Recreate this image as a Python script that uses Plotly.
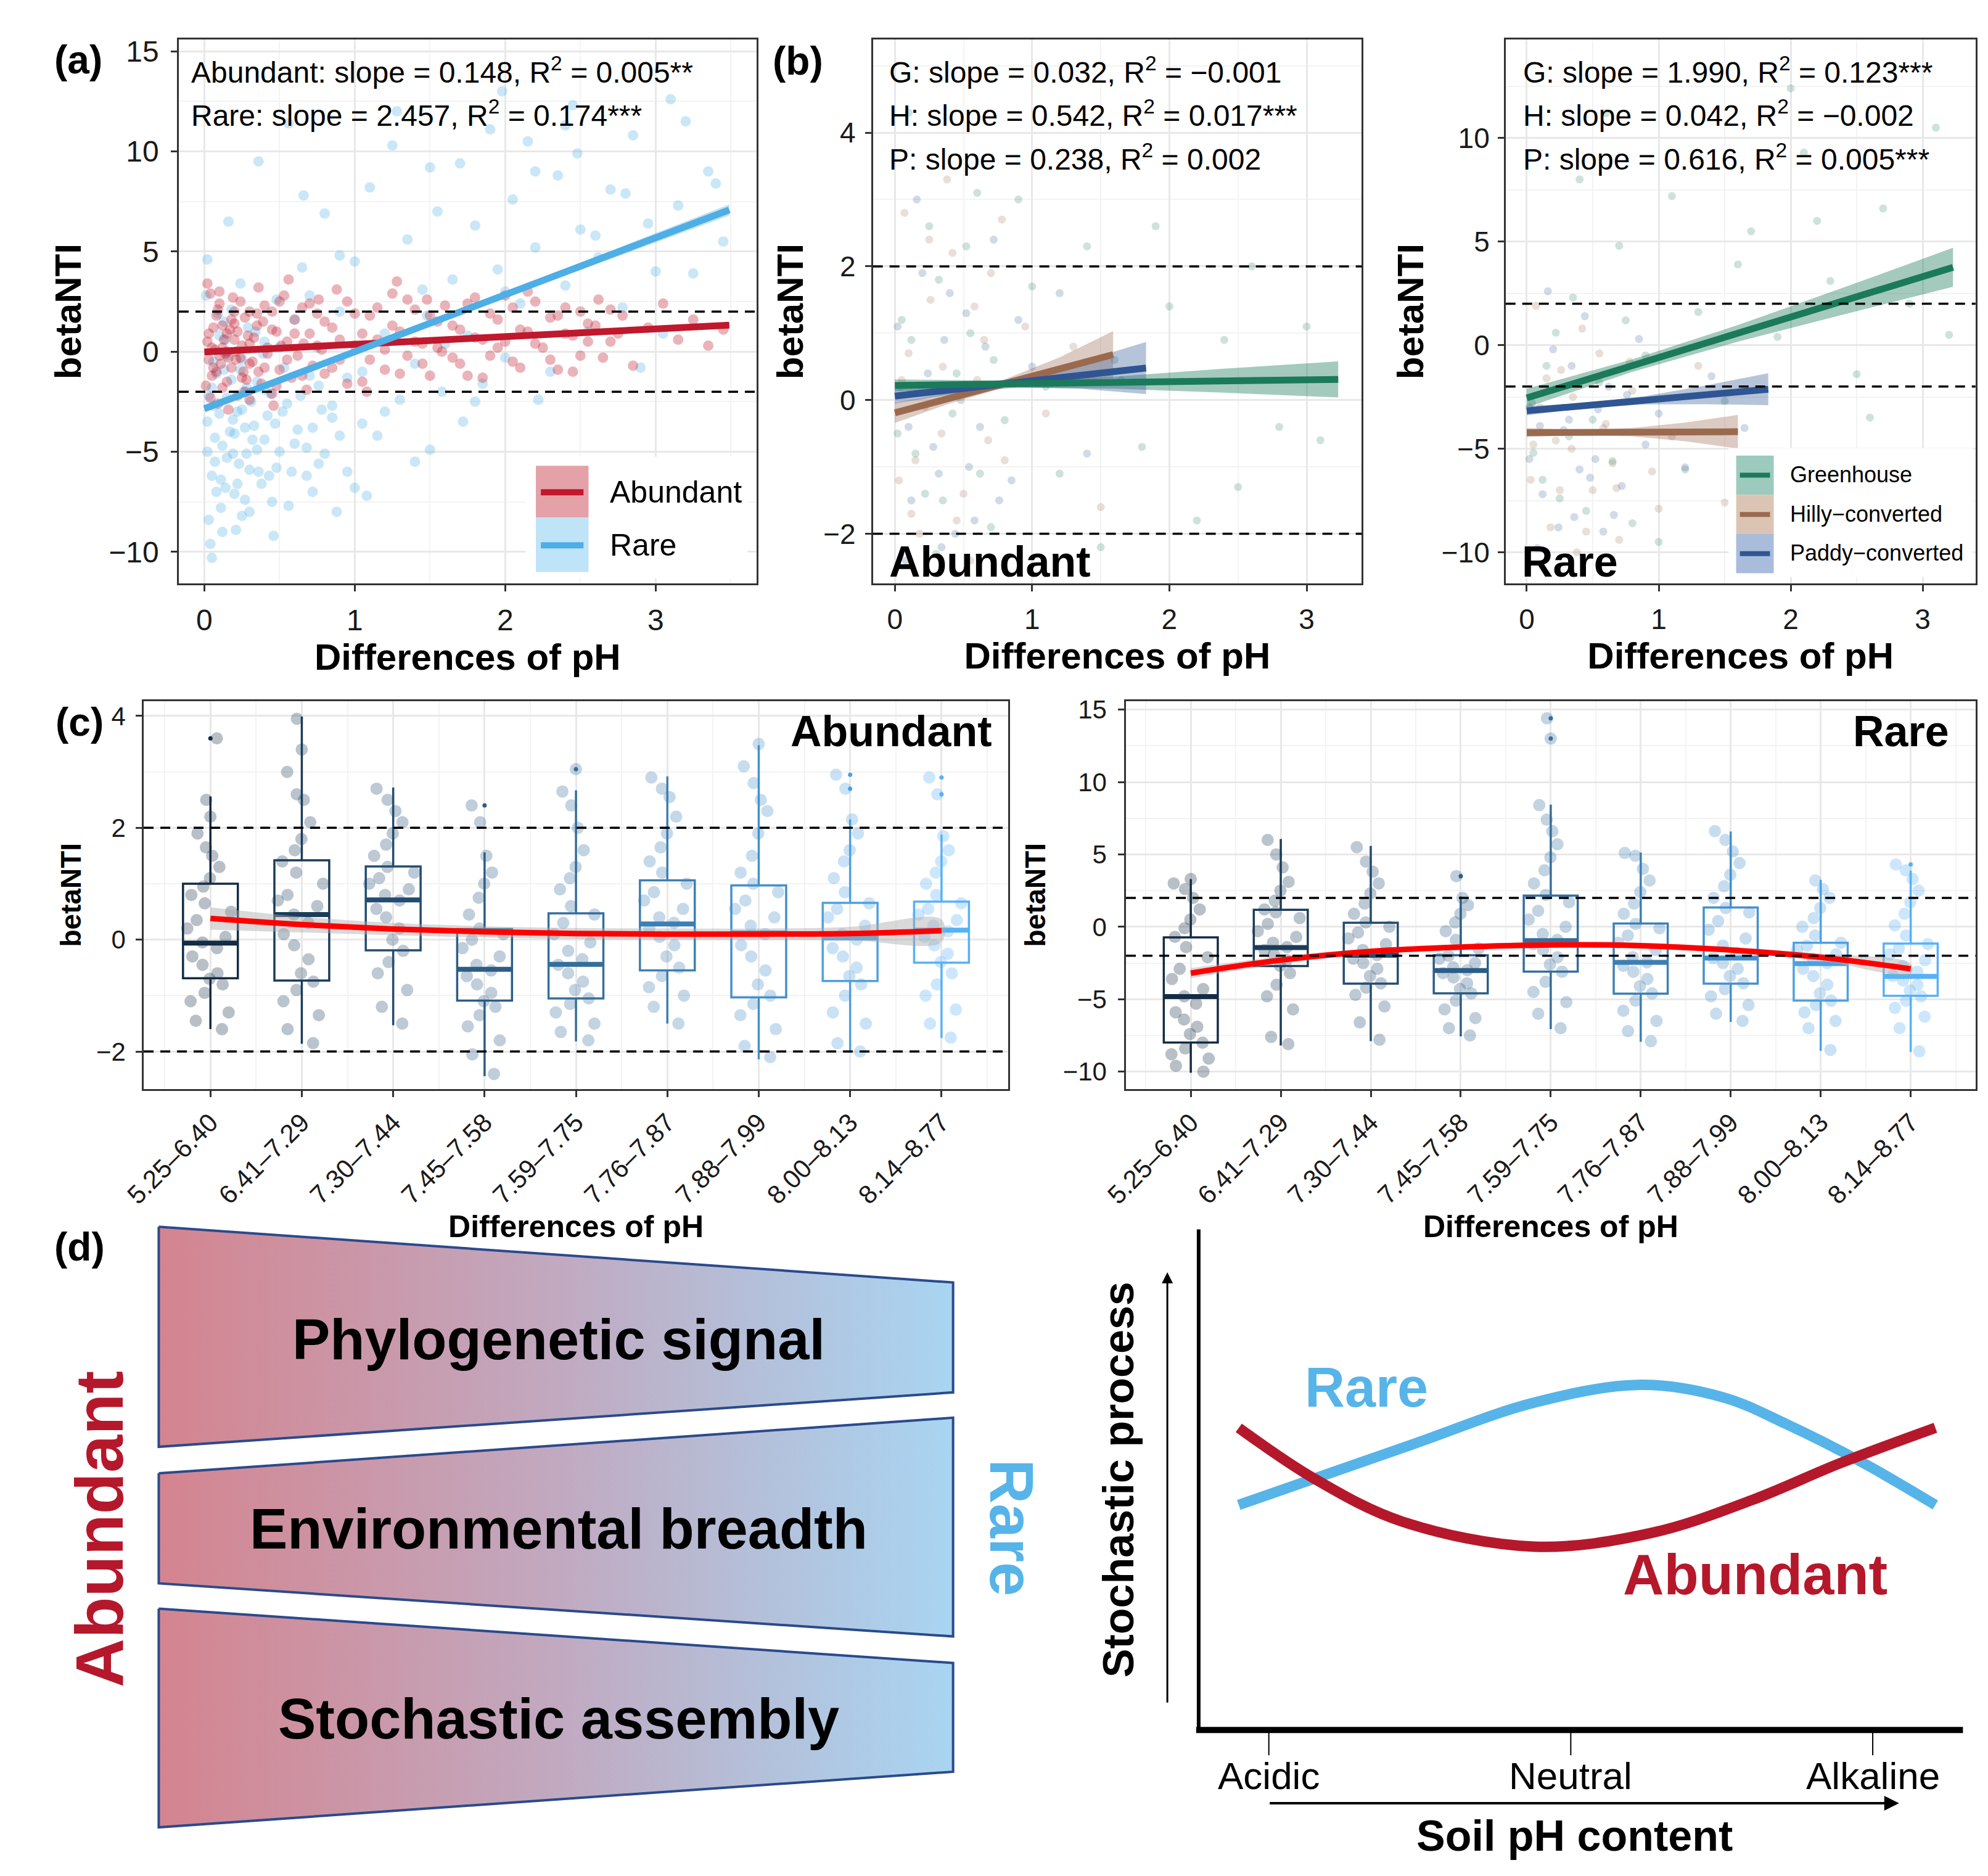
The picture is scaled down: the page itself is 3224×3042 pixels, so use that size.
import plotly.graph_objects as go

W, H = 3224, 3042
DW, DH = 1568.0, 1479.5   # layout grid (figure measured at ~half size)

# ---------------- (a) all sample pairs ----------------
abundant_pts = [
    (0.02, 0.5), (0.05, -1.2), (0.08, 1.8), (0.03, -0.4), (0.1, 2.4), (0.12, -1.8), (0.15, 0.9), (0.07, 0.1),
    (0.18, -0.8), (0.2, 1.4), (0.22, -2.2), (0.25, 0.3), (0.04, 2.9), (0.09, -2.6), (0.14, -0.1), (0.17, 1.1),
    (0.28, -1.4), (0.3, 2.0), (0.01, -1.7), (0.06, 1.2), (0.11, -0.6), (0.13, 0.6), (0.19, 2.7), (0.24, -0.3),
    (0.27, 1.7), (0.16, -2.9), (0.21, 0.0), (0.26, -1.0), (0.29, 0.8), (0.02, 3.4),
    (0.03, 0.9), (0.06, -0.8), (0.09, 2.1), (0.12, 0.2), (0.15, -1.5), (0.18, 1.6), (0.21, -0.4), (0.24, 2.5),
    (0.27, -2.0), (0.33, 0.7), (0.36, -1.0), (0.39, 1.5), (0.42, -0.1), (0.45, 2.0), (0.48, -1.7), (0.51, 0.3),
    (0.04, -2.3), (0.1, -0.2), (0.2, 0.6), (0.3, -0.6),
    (0.32, -0.5), (0.35, 1.3), (0.38, -1.6), (0.4, 2.3), (0.42, 0.2), (0.45, -2.1), (0.48, 1.0), (0.5, -0.9),
    (0.53, 2.8), (0.55, 0.5), (0.58, -1.3), (0.6, 1.6), (0.62, -0.2), (0.65, 2.2), (0.68, -1.9), (0.7, 0.9),
    (0.72, -0.7), (0.75, 1.9), (0.78, 0.1), (0.8, -1.1), (0.36, 3.2), (0.46, -2.7), (0.56, 3.6), (0.66, 0.4),
    (0.76, 2.6),
    (0.85, 1.2), (0.9, -0.4), (0.95, 2.5), (1.0, 0.3), (1.05, -1.5), (1.1, 1.8), (1.15, 0.6), (1.2, -0.9),
    (1.25, 2.9), (1.3, 1.0), (1.35, -0.2), (1.4, 2.1), (1.45, 0.4), (1.5, -1.2), (1.55, 1.5), (0.88, 3.1),
    (1.08, -2.0), (1.28, 3.5), (1.48, 2.6), (1.58, 0.0),
    (1.65, 1.3), (1.7, -0.6), (1.75, 2.4), (1.8, 0.7), (1.85, -1.3), (1.9, 1.9), (1.95, 0.2), (2.0, 2.8),
    (2.05, -0.5), (2.1, 1.1), (2.15, 3.0), (2.2, 0.4), (2.3, 1.7), (2.35, -0.9), (2.4, 2.2), (2.45, 0.8),
    (2.5, -0.2), (2.55, 1.4),
    (2.62, 2.6), (2.7, 0.5), (2.78, 1.8), (2.85, -0.7), (2.95, 1.2), (3.05, 2.4), (3.15, 0.6), (3.25, 1.6),
    (3.35, 0.3), (3.45, 1.1),
    (0.55, -0.4), (0.6, 0.9), (0.65, -1.2), (0.7, 2.4), (0.75, 0.3), (0.8, 1.5), (0.85, -0.8), (0.9, 0.6),
    (0.95, -1.6), (1.0, 1.9), (1.05, 0.9), (1.1, -0.4), (1.15, 2.2), (1.2, 0.1), (1.25, 1.3), (1.3, -1.1),
    (1.35, 2.6), (1.4, 0.5), (1.45, -0.6), (1.5, 1.8), (1.55, 0.2), (1.6, 2.3), (1.65, -0.3), (1.7, 1.1),
    (1.75, -1.2), (1.8, 2.7), (1.85, 0.6), (1.9, -0.2), (1.95, 1.6), (2.0, 0.5), (2.05, 2.2), (2.1, -0.8),
    (2.15, 1.0), (2.2, 2.5), (2.25, 0.2), (2.3, -0.4), (2.35, 1.8), (2.4, 0.9), (2.45, -1.0), (2.5, 2.0),
    (2.55, 0.5), (2.6, 1.3), (2.65, -0.3), (2.7, 2.1), (2.75, 0.9), (0.05, 0.2), (0.08, -1.0), (0.12, 1.3),
    (0.16, -0.3), (0.2, 2.0), (0.25, -1.3), (0.3, 0.4), (0.35, 1.9), (0.4, -0.8), (0.45, 1.1), (0.5, 2.5),
    (0.1, 3.0), (0.3, -2.4), (0.15, 0.0), (0.22, 1.0),
]
rare_pts = [
    (0.02, -3.5), (0.05, -6.2), (0.08, -1.1), (0.03, -8.4), (0.1, 0.8), (0.12, -4.7), (0.15, -2.3), (0.07, -5.5),
    (0.18, 2.1), (0.2, -7.1), (0.22, -3.0), (0.25, -0.4), (0.04, -9.6), (0.09, 1.9), (0.14, -6.8), (0.17, -4.0),
    (0.28, -1.8), (0.3, -5.9), (0.01, 2.8), (0.06, -2.7), (0.11, -7.8), (0.13, -0.9), (0.19, -5.1), (0.24, 3.4),
    (0.27, -3.8), (0.16, 6.5), (0.21, -8.9), (0.26, -2.0), (0.29, 1.2), (0.02, 4.6),
    (0.03, -2.2), (0.07, -4.3), (0.11, -6.4), (0.15, -0.2), (0.19, -3.4), (0.23, -5.6), (0.27, -7.4), (0.31, -2.5),
    (0.35, -4.9), (0.39, -0.1), (0.43, -6.2), (0.47, -3.6), (0.05, -10.3), (0.13, 1.5), (0.25, -8.2), (0.4, -1.9),
    (0.32, -4.4), (0.35, -1.5), (0.38, -6.6), (0.4, 0.5), (0.42, -3.2), (0.45, -7.5), (0.48, 2.6), (0.5, -5.0),
    (0.53, -0.8), (0.55, -2.6), (0.58, -6.0), (0.6, 1.6), (0.62, -3.9), (0.65, 4.2), (0.68, -4.8), (0.7, -1.2),
    (0.72, -7.0), (0.75, 0.2), (0.78, -2.9), (0.8, 6.9), (0.36, 9.5), (0.46, -9.2), (0.56, 11.4), (0.66, 7.8),
    (0.76, -5.6),
    (0.85, -3.3), (0.9, 2.0), (0.95, -6.0), (1.0, 4.5), (1.05, -1.0), (1.1, 8.2), (1.15, -4.2), (1.2, 0.9),
    (1.25, 10.3), (1.3, -2.4), (1.35, 5.6), (1.4, -0.6), (1.45, 3.1), (1.5, -4.9), (1.55, 7.0), (0.88, -8.0),
    (1.08, -7.2), (1.28, 12.0), (1.48, 1.8), (1.58, -2.0),
    (1.65, 3.6), (1.7, 9.4), (1.75, 0.8), (1.8, 6.3), (1.85, -1.6), (1.9, 11.1), (1.95, 4.1), (2.0, -0.3),
    (2.05, 7.6), (2.1, 2.4), (2.15, 10.5), (2.2, 5.2), (2.3, -1.0), (2.35, 8.8), (2.4, 3.3), (2.45, 12.3),
    (2.5, 6.1), (2.55, 1.0), (1.72, -3.5), (1.98, 13.0), (2.22, -2.4), (2.48, 9.9),
    (2.62, 4.7), (2.7, 8.1), (2.78, 2.2), (2.85, 10.8), (2.95, 6.4), (3.05, 0.9), (3.15, 7.3), (3.25, 3.9),
    (3.35, 9.0), (3.45, 5.5), (2.9, -0.8), (3.1, 12.6),
    (0.02, -5.0), (0.05, -1.8), (0.08, -7.0), (0.1, -3.1), (0.12, -9.0), (0.15, -5.3), (0.18, -1.4), (0.2, -4.1),
    (0.22, -6.6), (0.25, -2.9), (0.28, -5.1), (0.3, -8.0), (0.33, -3.7), (0.36, -6.0), (0.4, -4.4), (0.44, -2.1),
    (0.48, -5.8), (0.52, -3.0), (0.56, -7.7), (0.6, -4.6), (0.64, -2.2), (0.68, -6.2), (0.72, -3.8), (0.76, -1.7),
    (0.8, -5.1), (0.85, -2.7), (0.9, -4.2), (0.95, -1.3), (1.0, -6.8), (1.05, -3.6), (0.06, -0.5), (0.14, 0.6),
    (0.24, -0.9), (0.34, 1.0), (0.5, 0.2), (0.7, 2.8), (0.9, 4.8), (1.2, -3.0), (1.4, -5.5), (1.6, 0.4),
    (1.8, -2.5), (2.0, 3.0), (2.2, 9.0), (2.4, 11.3), (2.6, 5.8), (2.8, 7.9), (3.0, 4.0), (3.2, 11.5),
    (3.4, 8.4), (1.5, 9.2),
]
fit_a_x = [0, 0.9, 1.8, 2.7, 3.49]
fit_a_abundant = [-0.02, 0.33, 0.67, 1.02, 1.32]
fit_a_abundant_se = [0.05, 0.03, 0.04, 0.07, 0.10]
fit_a_rare = [-2.85, -0.29, 2.27, 4.83, 7.08]
fit_a_rare_se = [0.12, 0.08, 0.12, 0.20, 0.28]
stats_a = ['Abundant: slope = 0.148, R<sup>2</sup> = 0.005**',
           'Rare: slope = 2.457, R<sup>2</sup> = 0.174***']

# ---------------- (b) by land-use type ----------------
land_uses = ['Greenhouse', 'Hilly−converted', 'Paddy−converted']
b_ab_pts = {
    'Greenhouse': [(0.05, 1.2), (0.15, -0.8), (0.25, 2.6), (0.35, -1.5), (0.45, 0.4), (0.6, 3.1), (0.8, -0.3),
                   (1.0, 1.7), (1.2, -1.1), (1.4, 2.3), (1.6, 0.6), (1.8, -0.7), (2.0, 1.4), (2.2, -1.8),
                   (2.4, 0.9), (2.6, 2.0), (2.8, -0.4), (3.0, 1.1), (0.9, 3.0), (1.5, -2.2), (0.1, 4.3),
                   (0.3, -2.3), (0.55, 1.0), (0.7, -1.9), (1.1, 0.2), (2.5, -1.3), (1.9, 2.6), (3.1, -0.6),
                   (0.02, -0.5), (0.12, 0.9), (0.22, -1.4), (0.32, 1.8), (0.42, -0.2), (0.52, 2.3), (0.62, -1.1),
                   (0.72, 0.6)],
    'Hilly−converted': [(0.03, -1.2), (0.1, 0.7), (0.18, -2.0), (0.26, 1.5), (0.34, -0.5), (0.42, 2.2),
                        (0.5, -1.4), (0.6, 0.3), (0.7, 1.9), (0.8, -0.9), (0.95, 1.1), (1.1, -0.2), (1.3, 0.8),
                        (1.5, -1.6), (0.07, 2.8), (0.22, -0.1), (0.38, 3.3), (0.55, -2.4), (0.65, 0.9),
                        (0.12, -1.7), (0.05, 0.3), (0.15, -0.9), (0.25, 2.4), (0.35, 0.5), (0.45, -1.8),
                        (0.58, 1.4), (0.68, -0.6), (0.78, 2.7)],
    'Paddy−converted': [(0.04, 0.2), (0.12, -1.5), (0.2, 1.9), (0.28, -0.7), (0.36, 0.9), (0.44, -2.0),
                        (0.52, 1.3), (0.62, -0.4), (0.72, 2.4), (0.85, -1.2), (1.0, 0.5), (1.2, 1.6),
                        (1.4, -0.8), (1.65, 0.3), (0.08, -2.4), (0.16, 3.0), (0.32, -1.1), (0.48, 0.0),
                        (0.58, -1.8), (0.9, 1.2), (0.02, 1.1), (0.1, -0.4), (0.24, 0.4), (0.34, -2.2),
                        (0.4, 1.6), (0.54, -1.0), (0.66, 0.8), (0.76, -1.5)],
}
b_ra_pts = {
    'Greenhouse': [(0.05, -5.2), (0.15, -1.0), (0.25, -7.4), (0.35, 2.3), (0.5, -3.6), (0.7, 4.8), (0.9, -0.5),
                   (1.1, 7.2), (1.3, 1.6), (1.5, -2.7), (1.7, 5.5), (1.9, 0.4), (2.1, 9.3), (2.3, 3.1),
                   (2.5, -1.4), (2.7, 6.6), (2.9, 2.0), (3.1, 10.5), (0.6, 11.2), (1.2, -6.0), (2.0, 12.4),
                   (0.4, 8.0), (0.8, -8.6), (1.6, 3.9), (2.6, -3.5), (3.2, 0.5), (1.0, -9.5), (2.2, 6.0),
                   (0.02, -3.0), (0.12, -6.5), (0.22, 0.6), (0.32, -4.4), (0.45, -8.0), (0.55, -1.8),
                   (0.65, -5.6), (0.75, 1.2)],
    'Hilly−converted': [(0.03, -6.5), (0.1, -3.0), (0.18, -8.8), (0.26, -1.2), (0.34, -5.0), (0.42, 0.8),
                        (0.5, -7.0), (0.6, -3.8), (0.7, -9.4), (0.8, -2.2), (0.95, -6.1), (1.1, -4.4),
                        (1.3, -1.0), (1.5, -7.6), (0.07, 1.9), (0.22, -4.6), (0.38, -10.0), (0.55, -0.4),
                        (0.65, -5.7), (1.0, -7.9), (0.05, -4.8), (0.15, -1.6), (0.25, -7.0), (0.35, -2.5),
                        (0.45, -9.0), (0.58, -4.0), (0.68, -6.9), (0.78, -0.8)],
    'Paddy−converted': [(0.04, -2.8), (0.12, -7.2), (0.2, -0.2), (0.28, -4.1), (0.36, -8.3), (0.44, 1.4),
                        (0.52, -5.5), (0.62, -2.0), (0.72, -6.8), (0.85, 0.3), (1.0, -3.3), (1.2, -5.9),
                        (1.4, -1.5), (1.65, -4.0), (0.08, -9.8), (0.16, 2.6), (0.32, -3.6), (0.48, -6.4),
                        (0.58, -9.0), (0.9, -4.8), (0.02, -5.5), (0.1, -3.9), (0.24, -8.8), (0.34, -1.0),
                        (0.4, -6.0), (0.54, -3.1), (0.66, -8.2), (0.76, -2.4)],
}
# fitted lines: x, y, half width of the confidence band
b_ab_fit = {
    'Greenhouse': ([0, 0.8, 1.6, 2.4, 3.23], [0.22, 0.24, 0.26, 0.29, 0.31], [0.09, 0.05, 0.09, 0.18, 0.27]),
    'Hilly−converted': ([0, 0.4, 0.8, 1.2, 1.59], [-0.19, 0.03, 0.25, 0.46, 0.68], [0.15, 0.08, 0.06, 0.18, 0.35]),
    'Paddy−converted': ([0, 0.45, 0.9, 1.35, 1.83], [0.06, 0.16, 0.26, 0.37, 0.48], [0.11, 0.06, 0.07, 0.2, 0.39]),
}
b_ra_fit = {
    'Greenhouse': ([0, 0.8, 1.6, 2.4, 3.23], [-2.55, -0.99, 0.57, 2.13, 3.76], [0.45, 0.3, 0.4, 0.65, 0.94]),
    'Hilly−converted': ([0, 0.4, 0.8, 1.2, 1.6], [-4.22, -4.21, -4.2, -4.19, -4.18], [0.22, 0.12, 0.2, 0.45, 0.81]),
    'Paddy−converted': ([0, 0.45, 0.9, 1.35, 1.83], [-3.17, -2.91, -2.66, -2.4, -2.13], [0.22, 0.12, 0.2, 0.45, 0.77]),
}
stats_b_ab = ['G: slope = 0.032, R<sup>2</sup> = −0.001',
              'H: slope = 0.542, R<sup>2</sup> = 0.017***',
              'P: slope = 0.238, R<sup>2</sup> = 0.002']
stats_b_ra = ['G: slope = 1.990, R<sup>2</sup> = 0.123***',
              'H: slope = 0.042, R<sup>2</sup> = −0.002',
              'P: slope = 0.616, R<sup>2</sup> = 0.005***']

# ---------------- (c) boxplots by pH range ----------------
ph_bins = ['5.25–6.40', '6.41–7.29', '7.30–7.44', '7.45–7.58', '7.59–7.75',
           '7.76–7.87', '7.88–7.99', '8.00–8.13', '8.14–8.77']
c_ab_q1 = [-0.69, -0.73, -0.19, -1.09, -1.05, -0.55, -1.03, -0.74, -0.41]
c_ab_med = [-0.06, 0.45, 0.71, -0.53, -0.44, 0.28, 0.12, 0.03, 0.17]
c_ab_q3 = [1.0, 1.42, 1.31, 0.19, 0.47, 1.06, 0.97, 0.66, 0.68]
c_ab_lo = [-1.6, -1.86, -1.53, -2.44, -1.82, -1.5, -2.14, -2.02, -1.76]
c_ab_hi = [2.56, 3.99, 2.72, 1.56, 2.67, 2.92, 3.48, 2.15, 1.88]
c_ab_out = [(0, 3.6), (3, 2.4), (4, 3.05), (7, 2.95), (7, 2.7), (8, 2.9), (8, 2.6)]
c_ab_pts = [
    [-1.6, -1.45, -1.3, -1.1, -0.95, -0.8, -0.7, -0.6, -0.45, -0.3, -0.15, -0.05, 0.05, 0.2, 0.35, 0.5, 0.65, 0.8, 0.95, 1.1, 1.3, 1.5, 1.65, 1.9, 2.2, 2.5, 3.6],
    [-1.85, -1.6, -1.35, -1.1, -0.9, -0.75, -0.6, -0.35, -0.1, 0.1, 0.3, 0.45, 0.6, 0.7, 0.8, 1.0, 1.2, 1.4, 1.6, 1.8, 2.1, 2.5, 2.6, 3.0, 3.4, 3.95],
    [-1.5, -1.2, -0.9, -0.6, -0.4, -0.2, 0.0, 0.2, 0.4, 0.55, 0.7, 0.8, 0.9, 1.0, 1.1, 1.2, 1.3, 1.5, 1.7, 1.9, 2.1, 2.3, 2.5, 2.7],
    [-2.4, -2.05, -1.8, -1.55, -1.35, -1.2, -1.1, -0.95, -0.8, -0.65, -0.55, -0.45, -0.3, -0.15, 0.0, 0.1, 0.2, 0.45, 0.75, 1.0, 1.2, 1.5, 2.1, 2.4],
    [-1.8, -1.65, -1.5, -1.3, -1.15, -1.05, -0.9, -0.75, -0.6, -0.45, -0.35, -0.2, -0.05, 0.1, 0.3, 0.45, 0.6, 0.9, 1.1, 1.3, 1.6, 2.0, 2.4, 2.65, 3.05],
    [-1.5, -1.2, -1.0, -0.85, -0.65, -0.5, -0.3, -0.1, 0.05, 0.2, 0.3, 0.4, 0.55, 0.7, 0.85, 1.0, 1.2, 1.4, 1.65, 1.9, 2.2, 2.55, 2.7, 2.9],
    [-2.1, -1.9, -1.6, -1.35, -1.15, -1.0, -0.8, -0.55, -0.3, -0.1, 0.1, 0.25, 0.4, 0.55, 0.7, 0.85, 1.0, 1.2, 1.5, 1.9, 2.3, 2.5, 2.8, 3.1, 3.5],
    [-2.0, -1.85, -1.5, -1.3, -1.0, -0.8, -0.65, -0.5, -0.3, -0.15, 0.0, 0.1, 0.25, 0.4, 0.55, 0.65, 0.85, 1.1, 1.4, 1.6, 1.9, 2.15, 2.7, 2.95],
    [-1.75, -1.5, -1.25, -1.0, -0.8, -0.6, -0.4, -0.25, -0.1, 0.05, 0.15, 0.25, 0.35, 0.45, 0.55, 0.65, 0.8, 1.0, 1.2, 1.4, 1.6, 1.85, 2.6, 2.9],
]
c_ab_loess = [0.38, 0.27, 0.19, 0.14, 0.11, 0.10, 0.10, 0.11, 0.16]
c_ab_loess_se = [0.2, 0.14, 0.11, 0.1, 0.1, 0.1, 0.1, 0.12, 0.2]

c_ra_q1 = [-7.99, -2.71, -3.92, -4.6, -3.09, -4.62, -3.92, -5.1, -4.77]
c_ra_med = [-4.82, -1.43, -1.96, -3.02, -0.95, -2.46, -2.16, -2.54, -3.42]
c_ra_q3 = [-0.73, 1.18, 0.28, -1.96, 2.16, 0.23, 1.33, -1.1, -1.16]
c_ra_lo = [-10.08, -8.19, -7.89, -7.56, -7.06, -7.94, -6.56, -8.57, -8.64]
c_ra_hi = [3.29, 6.06, 5.58, 2.1, 8.44, 5.13, 6.58, 3.24, 3.87]
c_ra_out = [(3, 3.5), (4, 14.4), (4, 13.0), (8, 4.3)]
c_ra_pts = [
    [-10.0, -9.6, -9.1, -8.8, -8.4, -8.0, -7.4, -6.9, -6.4, -5.9, -5.3, -4.8, -4.3, -3.6, -2.9, -2.1, -1.4, -0.7, -0.1, 0.5, 1.2, 2.0, 2.6, 3.0, 3.3],
    [-8.1, -7.6, -5.7, -4.8, -4.0, -3.2, -2.7, -2.3, -1.9, -1.6, -1.4, -1.1, -0.7, -0.3, 0.2, 0.6, 1.0, 1.2, 1.8, 2.5, 3.1, 4.1, 5.0, 6.0],
    [-7.8, -6.6, -5.5, -4.7, -4.2, -3.9, -3.4, -2.9, -2.5, -2.2, -1.95, -1.6, -1.2, -0.8, -0.4, 0.0, 0.3, 0.9, 1.6, 2.3, 3.0, 3.8, 4.5, 5.5],
    [-7.5, -7.0, -6.3, -5.7, -5.1, -4.6, -4.3, -3.9, -3.5, -3.2, -3.0, -2.8, -2.5, -2.2, -2.0, -1.5, -0.9, -0.3, 0.3, 0.9, 1.5, 2.0, 3.5],
    [-7.0, -6.0, -5.2, -4.5, -3.8, -3.1, -2.6, -2.1, -1.6, -1.2, -0.9, -0.5, 0.0, 0.5, 1.1, 1.7, 2.2, 3.0, 3.9, 4.8, 5.7, 6.6, 7.4, 8.4, 13.0, 14.4],
    [-7.9, -7.2, -6.5, -5.8, -5.1, -4.6, -4.1, -3.6, -3.1, -2.7, -2.45, -2.1, -1.6, -1.1, -0.6, -0.1, 0.2, 0.9, 1.6, 2.4, 3.2, 4.0, 4.9, 5.1],
    [-6.5, -6.0, -5.4, -4.8, -4.3, -3.9, -3.4, -2.9, -2.5, -2.15, -1.8, -1.3, -0.8, -0.2, 0.4, 1.0, 1.3, 2.0, 2.8, 3.6, 4.4, 5.2, 6.0, 6.6],
    [-8.5, -7.0, -6.5, -5.9, -5.4, -5.1, -4.6, -4.0, -3.4, -2.9, -2.5, -2.2, -1.9, -1.6, -1.3, -1.1, -0.6, 0.0, 0.6, 1.3, 2.0, 2.6, 3.2],
    [-8.6, -7.0, -6.2, -5.6, -5.1, -4.8, -4.4, -4.0, -3.7, -3.4, -3.1, -2.7, -2.3, -1.9, -1.5, -1.2, -0.6, 0.1, 0.9, 1.7, 2.5, 3.3, 3.9, 4.3],
]
c_ra_loess = [-3.2, -2.3, -1.7, -1.4, -1.25, -1.3, -1.6, -2.1, -2.9]
c_ra_loess_se = [0.35, 0.25, 0.2, 0.2, 0.2, 0.2, 0.2, 0.25, 0.35]
thresholds = [-2, 2]

# ---------------- (d) conceptual diagram ----------------
trend_labels = ['Phylogenetic signal', 'Environmental breadth', 'Stochastic assembly']
ph_levels = ['Acidic', 'Neutral', 'Alkaline']
concept_rare = [(970, 1186), (1106, 1139), (1206, 1105), (1291, 1091), (1357, 1101), (1407, 1122), (1467, 1152), (1526, 1186)]
concept_abundant = [(970, 1125), (1030, 1165), (1100, 1199), (1206, 1219), (1300, 1208), (1380, 1182), (1450, 1153), (1526, 1125)]

# ---------------- style ----------------
FONT = 'Liberation Sans'
RED, RED_FILL = '#c0182d', '#e4a1a8'
BLUE, BLUE_FILL = '#4eaee6', '#bfe3f7'
LU_LINE = {'Greenhouse': '#1b7a5a', 'Hilly−converted': '#9a6a4f', 'Paddy−converted': '#2f5592'}
LU_FILL = {'Greenhouse': 'rgba(27,122,90,0.4)', 'Hilly−converted': 'rgba(154,106,79,0.35)',
           'Paddy−converted': 'rgba(47,85,146,0.35)'}
LU_KEY = {'Greenhouse': '#9ccbbd', 'Hilly−converted': '#dcc4b4', 'Paddy−converted': '#a9bcdb'}
BOX_COLS = ['#132b43', '#1b3c59', '#244c70', '#2c5d86', '#356e9d', '#3d7fb3', '#4590ca', '#4ea0e0', '#56b1f7']


def xdom(a, b):
    return [a / DW, b / DW]


def ydom(top, bottom):
    return [1 - bottom / DH, 1 - top / DH]


def band(xs, ys, hw):
    up = [y + h for y, h in zip(ys, hw)]
    lo = [y - h for y, h in zip(ys, hw)]
    return list(xs) + list(xs)[::-1], up + lo[::-1]


def rgba(hexcol, a):
    h = hexcol.lstrip('#')
    return 'rgba(%d,%d,%d,%s)' % (int(h[0:2], 16), int(h[2:4], 16), int(h[4:6], 16), a)


fig = go.Figure()

# (a)
for pts, col, op, sz in ((rare_pts, BLUE, 0.3, 17), (abundant_pts, RED, 0.33, 17)):
    px, py = zip(*pts)
    fig.add_trace(go.Scatter(x=px, y=py, mode='markers', xaxis='x', yaxis='y',
                             marker=dict(color=col, size=sz, opacity=op, line=dict(width=0))))
for fit, se, col in ((fit_a_abundant, fit_a_abundant_se, RED), (fit_a_rare, fit_a_rare_se, BLUE)):
    bx, by = band(fit_a_x, fit, se)
    fig.add_trace(go.Scatter(x=bx, y=by, fill='toself', mode='lines', line=dict(width=0),
                             fillcolor=rgba(col, 0.35), xaxis='x', yaxis='y'))
for fit, col in ((fit_a_abundant, RED), (fit_a_rare, BLUE)):
    fig.add_trace(go.Scatter(x=fit_a_x, y=fit, mode='lines', line=dict(color=col, width=11),
                             xaxis='x', yaxis='y'))

# (b)
for pts_d, fit_d, xa, ya in ((b_ab_pts, b_ab_fit, 'x2', 'y2'), (b_ra_pts, b_ra_fit, 'x3', 'y3')):
    for lu in land_uses:
        px, py = zip(*pts_d[lu])
        fig.add_trace(go.Scatter(x=px, y=py, mode='markers', xaxis=xa, yaxis=ya,
                                 marker=dict(color=LU_LINE[lu], size=13, opacity=0.22, line=dict(width=0))))
    for lu in land_uses:
        fx, fy, fse = fit_d[lu]
        bx, by = band(fx, fy, fse)
        fig.add_trace(go.Scatter(x=bx, y=by, fill='toself', mode='lines', line=dict(width=0),
                                 fillcolor=LU_FILL[lu], xaxis=xa, yaxis=ya))
    for lu in ('Hilly−converted', 'Paddy−converted', 'Greenhouse'):
        fx, fy, fse = fit_d[lu]
        fig.add_trace(go.Scatter(x=fx, y=fy, mode='lines', line=dict(color=LU_LINE[lu], width=11),
                                 xaxis=xa, yaxis=ya))

# (c)
pos = list(range(1, len(ph_bins) + 1))
BOX_W = 0.6
for (q1, med, q3, lo, hi, pts, outs, loess, lse, xa, ya) in (
        (c_ab_q1, c_ab_med, c_ab_q3, c_ab_lo, c_ab_hi, c_ab_pts, c_ab_out, c_ab_loess, c_ab_loess_se, 'x4', 'y4'),
        (c_ra_q1, c_ra_med, c_ra_q3, c_ra_lo, c_ra_hi, c_ra_pts, c_ra_out, c_ra_loess, c_ra_loess_se, 'x5', 'y5')):
    for i, p in enumerate(pos):
        col = BOX_COLS[i]
        fig.add_trace(go.Box(x=[p] * len(pts[i]), y=pts[i], boxpoints='all', jitter=0.9, pointpos=0,
                             width=BOX_W, fillcolor='rgba(0,0,0,0)', line=dict(color='rgba(0,0,0,0)', width=0),
                             marker=dict(color=col, size=20, opacity=0.3), xaxis=xa, yaxis=ya))
        fig.add_trace(go.Box(x=[p], q1=[q1[i]], median=[med[i]], q3=[q3[i]], lowerfence=[lo[i]],
                             upperfence=[hi[i]], boxpoints=False, width=BOX_W, whiskerwidth=0,
                             fillcolor='rgba(0,0,0,0)', line=dict(color=col, width=3.5), xaxis=xa, yaxis=ya))
        fig.add_trace(go.Scatter(x=[p - BOX_W / 2, p + BOX_W / 2], y=[med[i], med[i]], mode='lines',
                                 line=dict(color=col, width=8), xaxis=xa, yaxis=ya))
    ox = [pos[k] for k, _ in outs]
    oy = [v for _, v in outs]
    oc = [BOX_COLS[k] for k, _ in outs]
    fig.add_trace(go.Scatter(x=ox, y=oy, mode='markers', marker=dict(color=oc, size=7),
                             xaxis=xa, yaxis=ya))
    bx, by = band(pos, loess, lse)
    fig.add_trace(go.Scatter(x=bx, y=by, fill='toself', mode='lines', line=dict(width=0, shape='spline'),
                             fillcolor='rgba(170,170,170,0.45)', xaxis=xa, yaxis=ya))
    fig.add_trace(go.Scatter(x=pos, y=loess, mode='lines', line=dict(color='#ff0000', width=9, shape='spline'),
                             xaxis=xa, yaxis=ya))

# (d) left: trapezoids with red-to-blue gradient
trapezoids = [
    [(108, 966), (742, 1010), (742, 1097), (108, 1140)],
    [(108, 1161), (742, 1117), (742, 1290), (108, 1248)],
    [(108, 1268), (742, 1311), (742, 1397), (108, 1441)],
]
for tz in trapezoids:
    tx, ty = zip(*(tz + tz[:1]))
    fig.add_trace(go.Scatter(x=tx, y=ty, mode='lines', fill='toself', xaxis='x6', yaxis='y6',
                             line=dict(color='#2b4a8c', width=4),
                             fillgradient=dict(type='horizontal',
                                               colorscale=[[0, '#d4848f'], [0.5, '#c1a9c0'], [1, '#a8d5f2']])))
# (d) right: conceptual curves
for pts, col in ((concept_rare, '#56b4e9'), (concept_abundant, '#b5182b')):
    cx, cy = zip(*pts)
    fig.add_trace(go.Scatter(x=cx, y=cy, mode='lines', xaxis='x6', yaxis='y6',
                             line=dict(color=col, width=17, shape='spline', smoothing=1.0)))

# ---------------- axes ----------------
axis_base = dict(showline=True, mirror=True, linecolor='#333333', linewidth=2.5, ticks='outside',
                 ticklen=10, tickwidth=2.5, tickcolor='#333333', showgrid=True, gridcolor='#e8e8e8',
                 gridwidth=3, zeroline=False, fixedrange=True)


def lin_axis(domain, rng, dtick, minor, tsize, title, tfont, standoff, lab_off):
    return dict(axis_base, domain=domain, range=rng, dtick=dtick, tick0=0, ticklabelstandoff=lab_off,
                minor=dict(dtick=minor, showgrid=True, gridcolor='#f3f3f3', gridwidth=1.5, ticks=''),
                tickfont=dict(family=FONT, size=tsize, color='#1a1a1a'),
                title=dict(text='<b>%s</b>' % title, font=dict(family=FONT, size=tfont, color='black'),
                           standoff=standoff))


def cat_axis(domain, rng):
    return dict(axis_base, domain=domain, range=rng, tickmode='array', tickvals=pos, ticktext=ph_bins,
                tickangle=-45, minor=dict(tickmode='array', tickvals=[p - 0.5 for p in pos] + [pos[-1] + 0.5],
                                          showgrid=True, gridcolor='#f3f3f3', gridwidth=1.5, ticks=''),
                tickfont=dict(family=FONT, size=42, color='#1a1a1a'),
                title=dict(text='<b>Differences of pH</b>', font=dict(family=FONT, size=50, color='black'),
                           standoff=4))


layout = dict(
    width=W, height=H, margin=dict(l=0, r=0, t=0, b=0), paper_bgcolor='white',
    plot_bgcolor='rgba(0,0,0,0)',   # the full-page overlay axes must not hide the panels
    showlegend=False, font=dict(family=FONT),
    xaxis=lin_axis(xdom(124, 585), [-0.17, 3.67], 1, 0.5, 48, 'Differences of pH', 60, 4, 6),
    yaxis=lin_axis(ydom(27, 457), [-11.57, 15.58], 5, 2.5, 48, 'betaNTI', 60, 26, 10),
    xaxis2=lin_axis(xdom(678, 1068), [-0.16, 3.40], 1, 0.5, 46, 'Differences of pH', 60, 4, 6),
    yaxis2=lin_axis(ydom(27, 457), [-2.74, 5.39], 2, 1, 46, 'betaNTI', 60, 14, 6),
    xaxis3=lin_axis(xdom(1183, 1558), [-0.16, 3.40], 1, 0.5, 46, 'Differences of pH', 60, 4, 6),
    yaxis3=lin_axis(ydom(27, 457), [-11.5, 14.75], 5, 2.5, 46, 'betaNTI', 60, 10, 4),
    xaxis4=cat_axis(xdom(96, 786), [0.27, 9.73]),
    yaxis4=lin_axis(ydom(550, 857), [-2.67, 4.27], 2, 1, 42, 'betaNTI', 46, 10, 8),
    xaxis5=cat_axis(xdom(880, 1558), [0.28, 9.72]),
    yaxis5=lin_axis(ydom(550, 857), [-11.2, 15.6], 5, 2.5, 42, 'betaNTI', 46, 14, 10),
    xaxis6=dict(domain=[0, 1], range=[0, DW], visible=False, fixedrange=True),
    yaxis6=dict(domain=[0, 1], range=[DH, 0], visible=False, fixedrange=True),
    boxmode='overlay',
)
for i, ax in enumerate(['x', 'x2', 'x3', 'x4', 'x5']):
    layout['yaxis' + ('' if i == 0 else str(i + 1))]['anchor'] = ax
    layout['xaxis' + ('' if i == 0 else str(i + 1))]['anchor'] = 'y' + ('' if i == 0 else str(i + 1))
fig.update_layout(layout)

# dashed threshold lines
shapes = []
for ya, xa in (('y', 'x'), ('y2', 'x2'), ('y3', 'x3'), ('y4', 'x4'), ('y5', 'x5')):
    for t in thresholds:
        shapes.append(dict(type='line', xref=xa + ' domain', x0=0, x1=1, yref=ya, y0=t, y1=t,
                           line=dict(color='black', width=3.5, dash='16px,11px')))


def rect(x0, y0, x1, y1, fill):
    return dict(type='rect', xref='x6', yref='y6', x0=x0, x1=x1, y0=y0, y1=y1,
                fillcolor=fill, line=dict(width=0))


def seg(x0, y0, x1, y1, col, w):
    return dict(type='line', xref='x6', yref='y6', x0=x0, x1=x1, y0=y0, y1=y1, line=dict(color=col, width=w))


# legend of (a)
shapes += [rect(401, 357, 578, 453, 'white'), rect(409, 364, 451, 405, RED_FILL), rect(409, 405, 451, 448, BLUE_FILL),
           seg(413, 385, 447, 385, RED, 10), seg(413, 427, 447, 427, BLUE, 10)]
# legend of (b)
shapes.append(rect(1361, 350, 1556, 452, 'white'))
for k, lu in enumerate(land_uses):
    top = 356 + k * 31
    shapes += [rect(1367, top, 1397, top + 31, LU_KEY[lu]), seg(1370, top + 15.5, 1394, top + 15.5, LU_LINE[lu], 8)]
# axes of the conceptual plot
shapes += [seg(938, 968, 938, 1364, 'black', 6), seg(936, 1364, 1548, 1364, 'black', 10)]
for tx in (994, 1235, 1476):
    shapes.append(seg(tx, 1364, tx, 1384, 'black', 2))
fig.update_layout(shapes=shapes)

ann = []


def text(x, y, s, size, color='black', xanchor='center', angle=0, bold=False):
    ann.append(dict(x=x, y=y, xref='x6', yref='y6', text=('<b>%s</b>' % s) if bold else s, showarrow=False,
                    xanchor=xanchor, yanchor='middle', textangle=angle,
                    font=dict(family=FONT, size=size, color=color)))


text(44, 43, '(a)', 64, bold=True)
text(618, 44, '(b)', 64, bold=True)
text(45, 567, '(c)', 64, bold=True)
text(45, 982, '(d)', 64, bold=True)
for k, s in enumerate(stats_a):
    text(133, 51 + 34.5 * k, s, 48, xanchor='left')
for k, s in enumerate(stats_b_ab):
    text(690, 51 + 34.5 * k, s, 48, xanchor='left')
for k, s in enumerate(stats_b_ra):
    text(1196, 51 + 34.5 * k, s, 48, xanchor='left')
text(690, 440, 'Abundant', 70, xanchor='left', bold=True)
text(1195, 440, 'Rare', 70, xanchor='left', bold=True)
text(774, 574, 'Abundant', 70, xanchor='right', bold=True)
text(1538, 574, 'Rare', 70, xanchor='right', bold=True)
text(467, 385, 'Abundant', 50, xanchor='left')
text(467, 427, 'Rare', 50, xanchor='left')
for k, lu in enumerate(land_uses):
    text(1409, 371 + 31 * k, lu, 36, xanchor='left')
for k, s in enumerate(trend_labels):
    text(427, 1055 + 150 * k, s, 92, bold=True)
text(60, 1205, 'Abundant', 110, color='#b5182b', angle=-90, bold=True)
text(789, 1204, 'Rare', 100, color='#56b4e9', angle=90, bold=True)
text(874, 1166, 'Stochastic process', 70, angle=-90, bold=True)
for tx, s in zip((994, 1235, 1476), ph_levels):
    text(tx, 1400, s, 62)
text(1238, 1448, 'Soil pH content', 70, bold=True)
text(1072, 1093, 'Rare', 90, color='#56b4e9', bold=True)
text(1382, 1241, 'Abundant', 92, color='#b5182b', bold=True)
# arrows
ann.append(dict(x=1497, y=1422, ax=994, ay=1422, xref='x6', yref='y6', axref='x6', ayref='y6', text='',
                showarrow=True, arrowhead=2, arrowsize=1.2, arrowwidth=4, arrowcolor='black'))
ann.append(dict(x=913, y=1002, ax=913, ay=1343, xref='x6', yref='y6', axref='x6', ayref='y6', text='',
                showarrow=True, arrowhead=2, arrowsize=1.2, arrowwidth=3, arrowcolor='black'))
fig.update_layout(annotations=ann)

fig.write_html("out.html", config={'displayModeBar': False},
               post_script="document.body.style.margin='0px';")
